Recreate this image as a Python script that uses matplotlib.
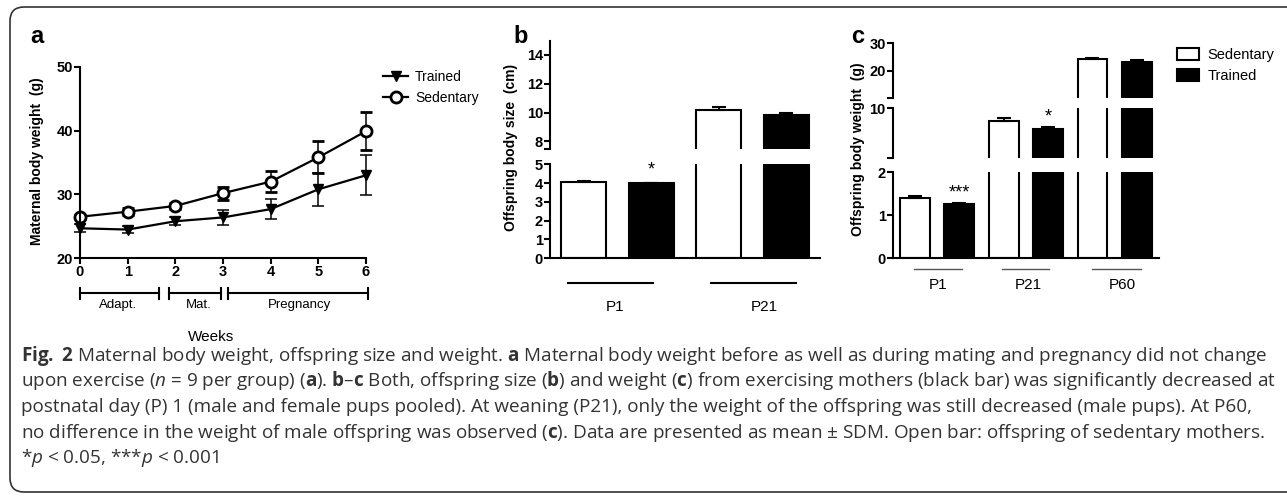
import numpy as np
import matplotlib
matplotlib.use('Agg')
import matplotlib.pyplot as plt
from matplotlib.patches import FancyBboxPatch

W, H = 1287, 497

plt.rcParams['font.family'] = ['Liberation Sans', 'DejaVu Sans']
plt.rcParams['mathtext.fontset'] = 'custom'
plt.rcParams['mathtext.rm'] = 'Open Sans'
plt.rcParams['mathtext.it'] = 'Open Sans:italic'
plt.rcParams['mathtext.bf'] = 'Open Sans:bold'

# panel a: maternal body weight
weeks = [0, 1, 2, 3, 4, 5, 6]
trained = [24.7, 24.5, 25.8, 26.4, 27.7, 30.8, 33.0]
trained_err = [0.6, 0.6, 0.6, 1.2, 1.6, 2.6, 3.1]
sedentary = [26.5, 27.3, 28.2, 30.2, 32.0, 35.8, 39.9]
sedentary_err = [0.3, 0.5, 0.5, 1.0, 1.6, 2.5, 3.0]

phases = ['Adapt.', 'Mat.', 'Pregnancy']
phase_start = [0, 1.87, 3.11]
phase_end = [1.66, 2.95, 6.05]
phase_label_x = [0.8, 2.5, 4.6]

# panel b: offspring body size (cm)
size_days = ['P1', 'P21']
size_sed = [4.08, 10.2]
size_sed_err = [0.04, 0.16]
size_tr = [4.0, 9.8]
size_tr_err = [0.03, 0.19]
size_stars = ['*', '']

# panel c: offspring body weight (g)
weight_days = ['P1', 'P21', 'P60']
weight_sed = [1.4, 8.0, 24.2]
weight_sed_err = [0.05, 0.38, 0.6]
weight_tr = [1.26, 6.7, 23.3]
weight_tr_err = [0.03, 0.37, 0.5]
weight_stars = ['***', '*', '']

caption = [
    r"$\mathbf{Fig.}$ $\mathbf{2}$ Maternal body weight, offspring size and weight. $\mathbf{a}$ Maternal body weight before as well as during mating and pregnancy did not change",
    r"upon exercise ($\mathit{n}$ = 9 per group) ($\mathbf{a}$). $\mathbf{b}$–$\mathbf{c}$ Both, offspring size ($\mathbf{b}$) and weight ($\mathbf{c}$) from exercising mothers (black bar) was significantly decreased at",
    "postnatal day (P) 1 (male and female pups pooled). At weaning (P21), only the weight of the offspring was still decreased (male pups). At P60,",
    r"no difference in the weight of male offspring was observed ($\mathbf{c}$). Data are presented as mean ± SDM. Open bar: offspring of sedentary mothers.",
    r"*$\mathit{p}$ < 0.05, ***$\mathit{p}$ < 0.001",
]

fig = plt.figure(figsize=(W / 100, H / 100), dpi=100)

# overlay in pixel units for frame, labels and caption
ov = fig.add_axes([0, 0, 1, 1])
ov.set_xlim(0, W)
ov.set_ylim(H, 0)
ov.axis('off')
ov.add_patch(FancyBboxPatch((10, 7), 1400, 485, boxstyle='round,pad=0,rounding_size=14',
                            fc='none', ec='#333333', lw=1.2))


def px_axes(left, top, right, bottom):
    a = fig.add_axes([left / W, 1 - bottom / H, (right - left) / W, (bottom - top) / H])
    a.patch.set_visible(False)
    for s in ['top', 'right']:
        a.spines[s].set_visible(False)
    for s in ['left', 'bottom']:
        a.spines[s].set_linewidth(1.5)
    a.tick_params(direction='out', length=4, width=1.5, labelsize=10.5, pad=1)
    return a


def set_yt(a, ticks):
    a.set_yticks(ticks, [f'{t:g}' for t in ticks], fontweight='bold', fontsize=10.5)


def yfrac(a_top, a_bottom, y_px):
    return -(y_px - a_bottom) / (a_bottom - a_top)


# ---------------- panel a ----------------
a_top, a_bot = 66.7, 258.3
ax = px_axes(80, a_top, 366, a_bot)
eb_tr = ax.errorbar(weeks, trained, yerr=trained_err, color='black', marker='v', ms=7,
                    lw=1.6, elinewidth=1.1, capsize=4, capthick=1.1)
eb_sed = ax.errorbar(weeks, sedentary, yerr=sedentary_err, color='black', marker='o', ms=8,
                     mfc='white', mew=2, lw=1.6, elinewidth=1.1, capsize=4, capthick=1.1)
for c in (eb_tr, eb_sed):
    for art in c.get_children():
        art.set_clip_on(False)
ax.set_xlim(0, 6)
ax.set_ylim(20, 50)
ax.set_xticks(weeks, [str(w) for w in weeks], fontweight='bold', fontsize=10.5)
set_yt(ax, [20, 30, 40, 50])
ax.legend([eb_tr[0], eb_sed[0]], ['Trained', 'Sedentary'], loc='upper left',
          bbox_to_anchor=(383 / W, 1 - 70 / H), bbox_transform=fig.transFigure,
          frameon=False, fontsize=10, borderpad=0, borderaxespad=0,
          handlelength=1.8, handletextpad=0.5, labelspacing=0.5)

tr = ax.get_xaxis_transform()
yb = yfrac(a_top, a_bot, 293.3)
y1 = yfrac(a_top, a_bot, 288.3)
y2 = yfrac(a_top, a_bot, 299.3)
for name, s, e, lx in zip(phases, phase_start, phase_end, phase_label_x):
    ax.plot([s, e], [yb, yb], color='black', lw=1.5, transform=tr, clip_on=False)
    for xx in (s, e):
        ax.plot([xx, xx], [y1, y2], color='black', lw=1.5, transform=tr, clip_on=False)
    ax.text(lx, yfrac(a_top, a_bot, 305), name, transform=tr, ha='center', va='center', fontsize=9.5)
ax.text(2.75, yfrac(a_top, a_bot, 337), 'Weeks', transform=tr, ha='center', va='center', fontsize=11)

ov.text(37, 161, 'Maternal body weight  (g)', rotation=90, ha='center', va='center',
        fontsize=10, fontweight='bold')
ov.text(30, 43, 'a', fontsize=17, fontweight='bold', va='baseline')


def draw_bars(a, xs, sed, sed_err, trn, trn_err, width):
    n = len(sed)
    bs = a.bar(xs[0::2], sed, width=width, color='white', edgecolor='black', lw=1.5,
               yerr=[[0] * n, sed_err], capsize=5, error_kw=dict(elinewidth=1.5, capthick=1.5))
    bt = a.bar(xs[1::2], trn, width=width, color='black', edgecolor='black', lw=1.5,
               yerr=[[0] * n, trn_err], capsize=5, error_kw=dict(elinewidth=1.5, capthick=1.5))
    return bs, bt


# ---------------- panel b ----------------
b_xs = np.arange(2 * len(size_days))
b_low_top, b_low_bot = 164.3, 258.3
bl = px_axes(550, b_low_top, 820, b_low_bot)
bu = px_axes(550, 40.6, 820, 148.6)
for a in (bl, bu):
    draw_bars(a, b_xs, size_sed, size_sed_err, size_tr, size_tr_err, 0.66)
    a.set_xlim(-0.5, 3.5)
    a.set_xticks([])
bl.set_ylim(0, 5)
set_yt(bl, [0, 1, 2, 3, 4, 5])
bu.set_ylim(7.5, 15)
set_yt(bu, [8, 10, 12, 14])
bu.set_yticks([7.5], minor=True)
bu.tick_params(which='minor', length=4, width=1.5)
bu.spines['bottom'].set_visible(False)
for i, st in enumerate(size_stars):
    if st:
        bl.annotate(st, (b_xs[2 * i + 1], size_tr[i] + size_tr_err[i]), xytext=(0, 3),
                    textcoords='offset points', ha='center', va='bottom', fontsize=13)
trb = bl.get_xaxis_transform()
b_line = [(-0.236, 1.03), (1.89, 3.15)]
b_lab_x = [0.46, 2.67]
for (s, e), lx, d in zip(b_line, b_lab_x, size_days):
    bl.plot([s, e], [yfrac(b_low_top, b_low_bot, 283.3)] * 2, color='black', lw=1.5,
            transform=trb, clip_on=False)
    bl.text(lx, yfrac(b_low_top, b_low_bot, 306.7), d, transform=trb, ha='center', va='center', fontsize=11)
ov.text(511, 147.5, 'Offspring body size  (cm)', rotation=90, ha='center', va='center',
        fontsize=10, fontweight='bold')
ov.text(513, 43, 'b', fontsize=17, fontweight='bold', va='baseline')

# ---------------- panel c ----------------
c_xs = np.arange(2 * len(weight_days))
c_low_top, c_low_bot = 172.3, 258.3
cl = px_axes(892.7, c_low_top, 1159, c_low_bot)
cm = px_axes(892.7, 108.3, 1159, 158.3)
cu = px_axes(892.7, 43.3, 1159, 98.1)
for a in (cl, cm, cu):
    bars_sed, bars_tr = draw_bars(a, c_xs, weight_sed, weight_sed_err, weight_tr, weight_tr_err, 0.67)
    a.set_xlim(-0.5, 5.5)
    a.set_xticks([])
cl.set_ylim(0, 2)
set_yt(cl, [0, 1, 2])
cm.set_ylim(2, 10)
set_yt(cm, [10])
cm.set_yticks([2], minor=True)
cu.set_ylim(10, 30)
set_yt(cu, [20, 30])
cu.set_yticks([10], minor=True)
for a in (cm, cu):
    a.spines['bottom'].set_visible(False)
    a.tick_params(which='minor', length=4, width=1.5)
for i, st in enumerate(weight_stars):
    if st:
        for a in (cl, cm, cu):
            lo, hi = a.get_ylim()
            top = weight_tr[i] + weight_tr_err[i]
            if lo <= top < hi:
                a.annotate(st, (c_xs[2 * i + 1], top), xytext=(0, 1),
                           textcoords='offset points', ha='center', va='bottom', fontsize=13)
trc = cl.get_xaxis_transform()
c_line = [(-0.02, 1.07), (1.96, 3.03), (4.0, 5.09)]
c_lab_x = [0.52, 2.56, 4.67]
for (s, e), lx, d in zip(c_line, c_lab_x, weight_days):
    cl.plot([s, e], [yfrac(c_low_top, c_low_bot, 269.3)] * 2, color='#555555', lw=1.0,
            transform=trc, clip_on=False)
    cl.text(lx, yfrac(c_low_top, c_low_bot, 285), d, transform=trc, ha='center', va='center', fontsize=11)
cu.legend([bars_sed, bars_tr], ['Sedentary', 'Trained'], loc='upper left',
          bbox_to_anchor=(1176.7 / W, 1 - 48 / H), bbox_transform=fig.transFigure,
          frameon=False, fontsize=10.5, borderpad=0, borderaxespad=0,
          handlelength=1.5, handleheight=0.94, handletextpad=0.6, labelspacing=0.45)
ov.text(858, 149, 'Offspring body weight  (g)', rotation=90, ha='center', va='center',
        fontsize=10, fontweight='bold')
ov.text(851, 43, 'c', fontsize=17, fontweight='bold', va='baseline')

# ---------------- caption ----------------
for k, line in enumerate(caption):
    ov.text(20.7, 361 + 25.5 * k, line, fontfamily='Open Sans', fontsize=13.6,
            color='#333333', va='baseline', ha='left')

fig.savefig('out.png', dpi=100)
